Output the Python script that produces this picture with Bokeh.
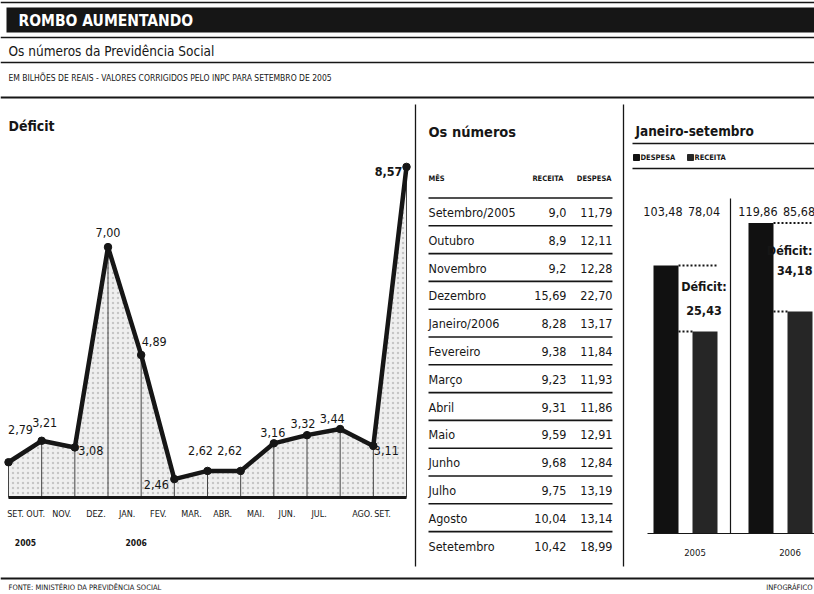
from bokeh.plotting import figure
from bokeh.models import Range1d
from bokeh.core.properties import value
from bokeh.embed import file_html
from bokeh.resources import INLINE

# ---------------- data ----------------
meses = ["SET.", "OUT.", "NOV.", "DEZ.", "JAN.", "FEV.", "MAR.", "ABR.", "MAI.", "JUN.", "JUL.", "AGO.", "SET."]
deficit = [2.79, 3.21, 3.08, 7.00, 4.89, 2.46, 2.62, 2.62, 3.16, 3.32, 3.44, 3.11, 8.57]
anos_linha = ["2005", "2006"]
anos_inicio = [0, 4]          # month index where each year starts

tabela_mes = ["Setembro/2005", "Outubro", "Novembro", "Dezembro", "Janeiro/2006", "Fevereiro",
              "Março", "Abril", "Maio", "Junho", "Julho", "Agosto", "Setetembro"]
receita = [9.0, 8.9, 9.2, 15.69, 8.28, 9.38, 9.23, 9.31, 9.59, 9.68, 9.75, 10.04, 10.42]
receita_casas = [1, 1, 1, 2, 2, 2, 2, 2, 2, 2, 2, 2, 2]
despesa = [11.79, 12.11, 12.28, 22.70, 13.17, 11.84, 11.93, 11.86, 12.91, 12.84, 13.19, 13.14, 18.99]

periodos = ["2005", "2006"]
despesa_jan_set = [103.48, 119.86]
receita_jan_set = [78.04, 85.68]
deficit_jan_set = [25.43, 34.18]

# ---------------- layout / style ----------------
NARROW = "'Liberation Sans Narrow', 'DejaVu Sans Condensed', 'Liberation Sans', sans-serif"
INK = "#161616"
W, H = 814, 594

def br(v, casas=2):
    return f"{v:.{casas}f}".replace(".", ",")

p = figure(width=W, height=H, x_range=Range1d(0, W), y_range=Range1d(H, 0),
           x_axis_type=None, y_axis_type=None, output_backend="svg",
           toolbar_location=None, min_border=0)
p.grid.visible = False
p.outline_line_color = None
p.background_fill_color = "white"
p.border_fill_color = "white"

def txt(x, y, s, size, bold=False, color=INK, align="left", baseline="middle", **kw):
    xs = x if isinstance(x, list) else None
    ys = y if isinstance(y, list) else None
    ss = s if isinstance(s, list) else None
    lens = [len(a) for a in (xs, ys, ss) if a is not None]
    n = max(lens) if lens else 1
    xs = xs if xs is not None else [x] * n
    ys = ys if ys is not None else [y] * n
    ss = ss if ss is not None else [s] * n
    p.text(x=xs, y=ys, text=ss,
           text_font=value(NARROW), text_font_size=f"{size}px",
           text_font_style="bold" if bold else "normal", text_color=color,
           text_align=align, text_baseline=baseline, **kw)

def hrule(y, x0=0, x1=W, w=1.6):
    p.segment(x0=[x0], y0=[y], x1=[x1], y1=[y], line_color=INK, line_width=w)

# ---------------- header ----------------
hrule(2, w=1.5)
p.quad(left=[6], right=[W], top=[7], bottom=[32], fill_color=INK, line_color=None)
txt(18, 20, "ROMBO AUMENTANDO", 15.5, bold=True, color="white")
hrule(37)
txt(8, 50, "Os números da Previdência Social", 13.5)
hrule(62)
txt(8, 77, "EM BILHÕES DE REAIS - VALORES CORRIGIDOS PELO INPC PARA SETEMBRO DE 2005", 8.5)
hrule(97, w=2)

# panel borders
p.segment(x0=[415, 623], y0=[104, 104], x1=[415, 623], y1=[566, 566], line_color=INK, line_width=1.3)

# ---------------- line chart: Déficit ----------------
txt(8, 125, "Déficit", 14, bold=True)

X0, X1 = 8, 406              # px of first / last month
DX = (X1 - X0) / (len(deficit) - 1)
Y_BASE, V_BASE, PX_V = 497, 2.1, 51.1
p.extra_x_ranges["mes"] = Range1d((0 - X0) / DX, (W - X0) / DX)
p.extra_y_ranges["dv"] = Range1d(V_BASE - (H - Y_BASE) / PX_V, V_BASE + Y_BASE / PX_V)
idx = list(range(len(deficit)))
L = dict(x_range_name="mes", y_range_name="dv")

p.varea(x=idx, y1=[V_BASE] * len(idx), y2=deficit, fill_color="#efefef",
        hatch_pattern="dot", hatch_color="#8a8a8a", hatch_alpha=0.4, hatch_scale=5, **L)
p.segment(x0=idx, y0=[V_BASE] * len(idx), x1=idx, y1=deficit, line_color="#444", line_width=1, **L)
p.segment(x0=[idx[0]], y0=[V_BASE], x1=[idx[-1]], y1=[V_BASE], line_color=INK, line_width=3, **L)
p.line(idx, deficit, line_color=INK, line_width=4.5, line_join="round", **L)
p.scatter(idx, deficit, size=7.5, color=INK, **L)

# value labels: offsets in px (right, down) from each point
lab_dx = [12, 3, 16, 0, 13, -18, -7, -11, -1, -4, -8, 13, -18]
lab_dy = [-33, -18, 3, -15, -13, 5, -20, -20, -11, -12, -11, 5, 5]
lx = [i + dx / DX for i, dx in zip(idx, lab_dx)]
ly = [v - dy / PX_V for v, dy in zip(deficit, lab_dy)]
txt(lx[:-1], ly[:-1], [br(v) for v in deficit[:-1]], 12.5, align="center", **L)
txt(lx[-1:], ly[-1:], [br(deficit[-1])], 12.5, bold=True, align="center", **L)

# month tick labels
mes_dx = [7, -6, -13, -12, -14, -16, -16, -18, -18, -20, -21, -11, -24]
mx = [i + dx / DX for i, dx in zip(idx, mes_dx)]
my = [V_BASE - 16 / PX_V] * len(idx)
txt(mx, my, meses, 9, align="center", **L)
yx = [anos_inicio[0] + 17 / DX, anos_inicio[1] - 5 / DX]
txt(yx, [V_BASE - 45 / PX_V] * 2, anos_linha, 8.5, bold=True, align="center", **L)

# ---------------- table: Os números ----------------
txt(428, 131, "Os números", 14.5, bold=True)
txt(428, 178, "MÊS", 7.5, bold=True)
txt(563, 178, "RECEITA", 7.5, bold=True, align="right")
txt(611, 178, "DESPESA", 7.5, bold=True, align="right")
ROW0, ROWH = 212, 27.8
rows_y = [ROW0 + ROWH * i for i in range(len(tabela_mes))]
p.segment(x0=[428] * len(rows_y), y0=[y - 14.5 for y in rows_y], x1=[612] * len(rows_y),
          y1=[y - 14.5 for y in rows_y], line_color=INK, line_width=1.6)
txt(428, rows_y, tabela_mes, 12.5)
txt(566, rows_y, [br(v, c) for v, c in zip(receita, receita_casas)], 12.5, align="right")
txt(612, rows_y, [br(v) for v in despesa], 12.5, align="right")

# ---------------- bars: Janeiro-setembro ----------------
txt(635, 130, "Janeiro-setembro", 13.5, bold=True)
hrule(143, x0=632)
COL_D, COL_R = "#111111", "#262626"
p.scatter([636, 690], [157, 157], marker="square", size=6, color=[COL_D, COL_R])
txt(640, 157, "DESPESA", 7.5, bold=True)
txt(694, 157, "RECEITA", 7.5, bold=True)
hrule(168, x0=632)

G0, GD, BW = 685, 95, 25      # px center of first group, group spacing, bar width
B_BASE, PX_B = 533, 2.59
p.extra_x_ranges["ano"] = Range1d((0 - G0) / GD, (W - G0) / GD)
p.extra_y_ranges["bi"] = Range1d(-(H - B_BASE) / PX_B, B_BASE / PX_B)
B = dict(x_range_name="ano", y_range_name="bi")
off = 19.5 / GD
bw = BW / GD
g = list(range(len(periodos)))
xd = [i - off for i in g]
xr = [i + off for i in g]

p.segment(x0=[(730 - G0) / GD], y0=[(B_BASE - 198) / PX_B], x1=[(730 - G0) / GD], y1=[0],
          line_color=INK, line_width=1.2, **B)
p.vbar(x=xd, top=despesa_jan_set, bottom=0, width=bw, fill_color=COL_D, line_color=None, **B)
p.vbar(x=xr, top=receita_jan_set, bottom=0, width=bw, fill_color=COL_R, line_color=None, **B)
p.segment(x0=[-0.4], y0=[0], x1=[1.6], y1=[0], line_color=INK, line_width=1.2, **B)

# values above
vy = [(B_BASE - 211) / PX_B] * len(g)
txt([x - 3 / GD for x in xd], vy, [br(v) for v in despesa_jan_set], 12.5, align="center", **B)
txt([x - 1 / GD for x in xr], vy, [br(v) for v in receita_jan_set], 12.5, align="center", **B)

# deficit brackets
p.segment(x0=[x + bw / 2 for x in xd], y0=despesa_jan_set, x1=[x + bw / 2 for x in xr],
          y1=despesa_jan_set, line_color=INK, line_width=2, line_dash="2 2", **B)
p.segment(x0=[x + bw / 2 for x in xd], y0=receita_jan_set, x1=[x - bw / 2 for x in xr],
          y1=receita_jan_set, line_color=INK, line_width=2, line_dash="2 2", **B)
mid = [(d + r) / 2 for d, r in zip(despesa_jan_set, receita_jan_set)]
dif = [br(v) for v in deficit_jan_set]
# first group centred on the receita bar; last one kept inside the panel edge
txt([xr[0] - 1 / GD], [mid[0] + 12 / PX_B], "Déficit:", 12.5, bold=True, align="center", **B)
txt([xr[0] - 1 / GD], [mid[0] - 12 / PX_B], dif[0], 12.5, bold=True, align="center", **B)
edge = (W - 2 - G0) / GD
txt([edge], [mid[1] + 17 / PX_B], "Déficit:", 12.5, bold=True, align="right", **B)
txt([edge], [mid[1] - 3 / PX_B], dif[1], 12.5, bold=True, align="right", **B)

# year labels
txt([i + 0.1 for i in g], [(B_BASE - 552) / PX_B] * len(g), periodos, 9.5, align="center", **B)

# ---------------- footer ----------------
hrule(578, w=2)
txt(8, 587, "FONTE: MINISTÉRIO DA PREVIDÊNCIA SOCIAL", 7.5)
txt(812, 587, "INFOGRÁFICO", 7.5, align="right")

open("out.html", "w").write(file_html(p, INLINE))
